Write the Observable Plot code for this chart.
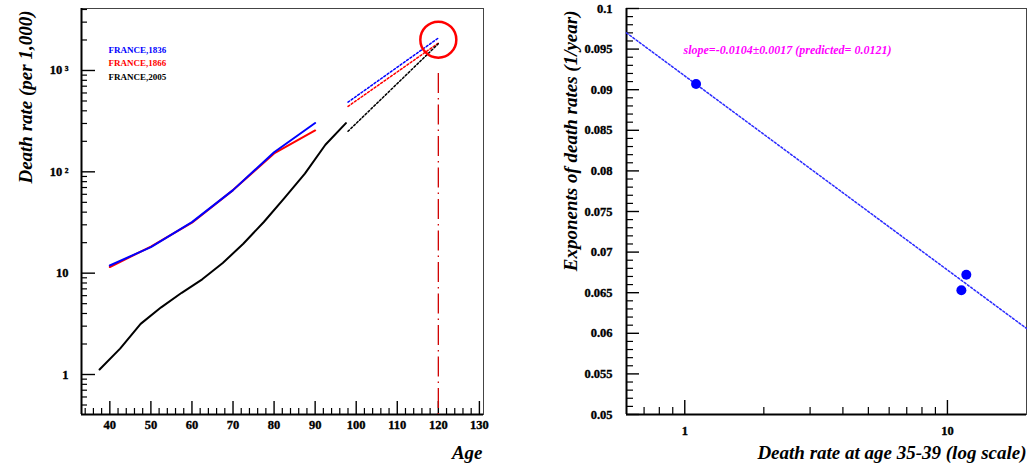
<!DOCTYPE html>
<html><head><meta charset="utf-8">
<script src="https://cdn.jsdelivr.net/npm/d3@7"></script>
<script src="https://cdn.jsdelivr.net/npm/@observablehq/plot@0.6"></script>
<style>
body{margin:0;background:#fff;}
#wrap{position:relative;width:1027px;height:470px;overflow:hidden;background:#fff;}
#left{position:absolute;left:0;top:0;}
#right{position:absolute;left:520px;top:0;}
svg{font-family:"Liberation Serif","Times New Roman",serif;}
g[aria-label$="tick label"] text{font-weight:bold;stroke:#000;stroke-width:0.35px;}
</style></head><body>
<div id="wrap"><div id="left"></div><div id="right"></div></div>
<script>
// ---- Left panel data ----
const ages1836 = [40, 50, 60, 70, 80, 90];
const rate1836 = [11.9, 18.1, 31.9, 66, 156, 303];
const ages1866 = [40, 50, 60, 70, 80, 90];
const rate1866 = [11.5, 18.3, 31.5, 66, 152, 256];
const ages2005 = [37.5, 42.5, 47.5, 52.5, 57.5, 62.5, 67.5, 72.5, 77.5, 82.5, 87.5, 92.5, 97.5];
const rate2005 = [1.12, 1.8, 3.16, 4.6, 6.4, 8.7, 12.6, 19.5, 32, 55, 96, 185, 302];
const extrapAges = [98, 120];
const extrap1836 = [487, 2090];
const extrap1866 = [442, 1862];
const extrap2005 = [251, 1836];
const legendLabels = ["FRANCE,1836", "FRANCE,1866", "FRANCE,2005"];
const seriesColors = ["#0000ff", "#ff0000", "#000000"];
const limitAge = [120];
const limitRate = [2015];
const limitRuleTop = [935];
const leftYMajor = [1, 10, 100, 1000];
const leftYLabels = ["1", "10", "10\u2009\u00B2", "10\u2009\u00B3"];
const leftXMajor = [40, 50, 60, 70, 80, 90, 100, 110, 120, 130];

// ---- Right panel data ----
const rate3539 = [1.104, 11.8, 11.3];
const exponents = [0.0907, 0.0672, 0.0653];
const fitX = [0.6, 20];
const fitY = [0.097, 0.0606];
const slopeText = "slope=-0.0104\u00B10.0017 (predicted= 0.0121)";
const rightYMajor = [0.05, 0.055, 0.06, 0.065, 0.07, 0.075, 0.08, 0.085, 0.09, 0.095, 0.1];
const rightXMajor = [1, 10];

// ---- helpers ----
const zip = (xs, ys) => xs.map((x, i) => ({x, y: ys[i]}));
const leftXDomain = [33.1, 131];
const leftYDomain = [0.403, 4090];
const leftXMinor = d3.range(34, 131, 2).filter(v => v % 10 !== 0);
const leftYMinor = [];
for (const k of [-1, 0, 1, 2, 3]) for (let m = 2; m <= 9; m++) {
  const v = m * Math.pow(10, k);
  if (v >= leftYDomain[0] && v <= leftYDomain[1]) leftYMinor.push(v);
}
const rightXDomain = [0.6, 20];
const rightYDomain = [0.05, 0.1];
const rightXMinor = [0.7, 0.8, 0.9, 2, 3, 4, 5, 6, 7, 8, 9];
const rightYMinor = d3.range(51, 100).filter(v => v % 5 !== 0).map(v => v / 1000);

const titleStyle = {fontSize: 19, fontWeight: "bold", fontStyle: "italic", fill: "#000"};
const tickLab = {fontSize: 12.5, fontWeight: "bold", fill: "#000"};
const dotted = {strokeWidth: 1.5, strokeDasharray: "2,2"};

const left = Plot.plot({
  width: 500, height: 470,
  marginLeft: 81, marginRight: 17, marginTop: 8, marginBottom: 56,
  x: {domain: leftXDomain},
  y: {type: "log", domain: leftYDomain},
  style: {fontFamily: "Liberation Serif, serif", background: "#fff"},
  marks: [
    Plot.frame({stroke: "#444", strokeWidth: 1}),
    Plot.axisX(leftXMinor, {tickSize: -6, fill: "none", label: null, strokeWidth: 1.2}),
    Plot.axisX(leftXMajor, {tickSize: -13, fill: "none", label: null, strokeWidth: 1.4}),
    Plot.axisX(leftXMajor, {tickSize: 0, tickPadding: 6, label: null, ...tickLab}),
    Plot.axisY(leftYMinor, {tickSize: -6, fill: "none", label: null, strokeWidth: 1.2}),
    Plot.axisY(leftYMajor, {tickSize: -14, fill: "none", label: null, strokeWidth: 1.4}),
    Plot.axisY(leftYMajor, {tickSize: 0, tickPadding: 13, label: null, tickFormat: (d) => leftYLabels[leftYMajor.indexOf(d)], ...tickLab}),
    Plot.ruleX([leftXDomain[0]], {strokeWidth: 2}),
    Plot.ruleY([leftYDomain[0]], {strokeWidth: 2}),
    // vertical dash-dot at limit age
    Plot.ruleX(limitAge, {y1: limitRuleTop[0], y2: leftYDomain[0], stroke: "#d00000", strokeWidth: 1.3, strokeDasharray: "20,5,1.5,5"}),
    // solid series
    Plot.line(zip(ages1866, rate1866), {x: "x", y: "y", stroke: seriesColors[1], strokeWidth: 2}),
    Plot.line(zip(ages1836, rate1836), {x: "x", y: "y", stroke: seriesColors[0], strokeWidth: 2}),
    Plot.line(zip(ages2005, rate2005), {x: "x", y: "y", stroke: seriesColors[2], strokeWidth: 2}),
    // dotted extrapolations
    Plot.line(zip(extrapAges, extrap1836), {x: "x", y: "y", stroke: seriesColors[0], ...dotted}),
    Plot.line(zip(extrapAges, extrap1866), {x: "x", y: "y", stroke: seriesColors[1], ...dotted}),
    Plot.line(zip(extrapAges, extrap2005), {x: "x", y: "y", stroke: seriesColors[2], ...dotted}),
    // circle
    Plot.dot(zip(limitAge, limitRate), {x: "x", y: "y", r: 18, stroke: "#ff0000", strokeWidth: 2.5, fill: "none"}),
    // legend
    ...legendLabels.map((t, i) => Plot.text([t], {text: d => d, frameAnchor: "top-left", dx: 27, dy: 38 + i * 13.5, textAnchor: "start", fontSize: 9, fontWeight: "bold", fill: seriesColors[i]})),
    // titles
    Plot.text(["Death rate (per 1,000)"], {text: d => d, frameAnchor: "top-left", rotate: -90, textAnchor: "end", dx: -63, dy: 2, ...titleStyle}),
    Plot.text(["Age"], {text: d => d, frameAnchor: "bottom-right", textAnchor: "end", dx: -1, dy: 44, ...titleStyle})
  ]
});
document.getElementById("left").appendChild(left);

const right = Plot.plot({
  width: 507, height: 470,
  marginLeft: 106, marginRight: 1, marginTop: 8, marginBottom: 56,
  x: {type: "log", domain: rightXDomain},
  y: {domain: rightYDomain},
  style: {fontFamily: "Liberation Serif, serif", background: "#fff"},
  marks: [
    Plot.frame({stroke: "#444", strokeWidth: 1}),
    Plot.axisX(rightXMinor, {tickSize: -7, fill: "none", label: null, strokeWidth: 1.2}),
    Plot.axisX(rightXMajor, {tickSize: -14, fill: "none", label: null, strokeWidth: 1.4}),
    Plot.axisX(rightXMajor, {tickSize: 0, tickPadding: 12, label: null, tickFormat: d => String(d), ...tickLab}),
    Plot.axisY(rightYMinor, {tickSize: -7, fill: "none", label: null, strokeWidth: 1.2}),
    Plot.axisY(rightYMajor, {tickSize: -13, fill: "none", label: null, strokeWidth: 1.4}),
    Plot.axisY(rightYMajor, {tickSize: 0, tickPadding: 14, label: null, tickFormat: d => String(+d.toFixed(3)), ...tickLab}),
    Plot.ruleX([rightXDomain[0]], {strokeWidth: 2}),
    Plot.ruleY([rightYDomain[0]], {strokeWidth: 2}),
    Plot.line(zip(fitX, fitY), {x: "x", y: "y", stroke: "#2a2aff", ...dotted}),
    Plot.dot(zip(rate3539, exponents), {x: "x", y: "y", r: 5, fill: "#0000ff", stroke: "none"}),
    Plot.text([slopeText], {text: d => d, frameAnchor: "top-left", textAnchor: "start", dx: 57, dy: 37, fontSize: 12, fontWeight: "bold", fontStyle: "italic", fill: "#ff00ff"}),
    Plot.text(["Exponents of death rates (1/year)"], {text: d => d, frameAnchor: "top-left", rotate: -90, textAnchor: "end", dx: -63, dy: 2, ...titleStyle}),
    Plot.text(["Death rate at age 35-39 (log scale)"], {text: d => d, frameAnchor: "bottom-right", textAnchor: "end", dx: 0, dy: 44, ...titleStyle})
  ]
});
document.getElementById("right").appendChild(right);
</script>
</body></html>
